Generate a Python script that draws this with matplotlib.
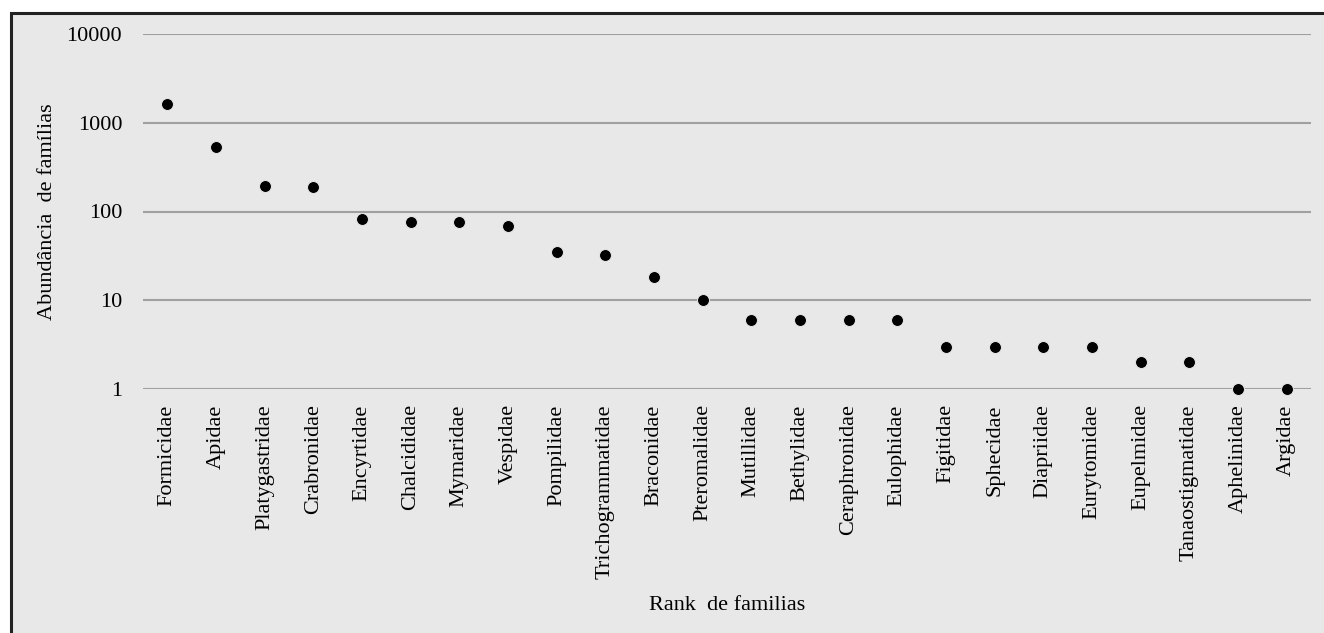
import matplotlib.pyplot as plt
from matplotlib.patches import Rectangle
from matplotlib.ticker import FixedLocator, NullLocator

# dados
familias = ['Formicidae', 'Apidae', 'Platygastridae', 'Crabronidae', 'Encyrtidae',
            'Chalcididae', 'Mymaridae', 'Vespidae', 'Pompilidae', 'Trichogrammatidae',
            'Braconidae', 'Pteromalidae', 'Mutillidae', 'Bethylidae', 'Ceraphronidae',
            'Eulophidae', 'Figitidae', 'Sphecidae', 'Diapriidae', 'Eurytomidae',
            'Eupelmidae', 'Tanaostigmatidae', 'Aphelinidae', 'Argidae']
abundancia = [1640, 540, 196, 188, 82, 76, 76, 68, 35, 32,
              18.5, 10, 6, 6, 6, 6, 3, 3, 3, 3,
              2, 2, 1, 1]
y_ticks = [1, 10, 100, 1000, 10000]
y_ticklabels = ['1', '10', '100', '1000', '10000']

plt.rcParams['font.family'] = ['Liberation Serif', 'DejaVu Serif']
bg = '#e8e8e8'

fig = plt.figure(figsize=(13.24, 6.33), dpi=100, facecolor='white')
# moldura cinza com borda preta (apenas topo e esquerda visíveis)
fig.patches.append(Rectangle((10.5 / 1324, -0.05), 1.2, 1 - 12.5 / 633 + 0.05,
                             transform=fig.transFigure, facecolor=bg,
                             edgecolor='#222222', linewidth=2.2, zorder=-10))

ax = fig.add_axes([143 / 1324, 1 - 389 / 633, 1168 / 1324, 355 / 633])
ax.set_zorder(5)
ax.set_facecolor('none')
x = list(range(len(familias)))
ax.plot(x, abundancia, 'o', color='black', markersize=8.6,
        markeredgecolor=bg, markeredgewidth=0.7, zorder=3, clip_on=False)

ax.set_yscale('log')
ax.set_ylim(1, 10000)
ax.set_xlim(-0.5, len(familias) - 0.5)
ax.yaxis.set_major_locator(FixedLocator(y_ticks))
ax.yaxis.set_minor_locator(NullLocator())
ax.set_yticklabels(y_ticklabels, fontsize=16)
ax.set_xticks(x)
ax.set_xticklabels(familias, rotation=90, fontsize=16, va='top')
ax.tick_params(axis='both', length=0)
ax.tick_params(axis='y', pad=15)
ax.tick_params(axis='x', pad=11)
ax.grid(axis='y', color='#a0a0a0', linewidth=1.5, zorder=1)
ax.set_axisbelow(True)
for s in ax.spines.values():
    s.set_visible(False)

ax.set_ylabel('Abundância  de famílias', fontsize=16, va='center')
ax.yaxis.set_label_coords(-0.082, 0.5)
ax.set_xlabel('Rank  de familias', fontsize=16, va='center')
ax.xaxis.set_label_coords(0.5, -0.61)

plt.savefig('out.png', dpi=100, facecolor='white')
